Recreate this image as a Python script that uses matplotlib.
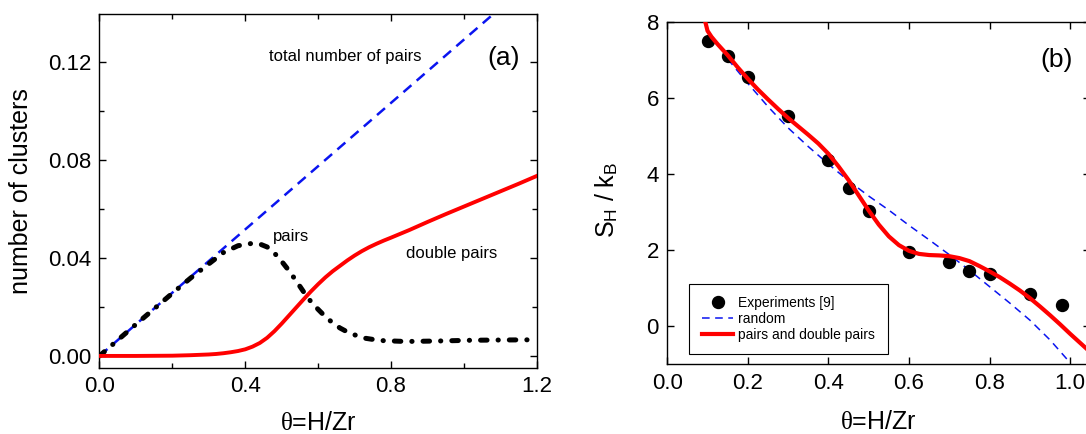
import matplotlib

matplotlib.use("Agg")
import matplotlib.pyplot as plt
from matplotlib.ticker import MultipleLocator

plt.rcParams["font.family"] = ["Liberation Sans", "DejaVu Sans"]
plt.rcParams["mathtext.fontset"] = "custom"
plt.rcParams["mathtext.rm"] = "Liberation Serif"
plt.rcParams["mathtext.sf"] = "Liberation Sans"
plt.rcParams["mathtext.it"] = "Liberation Serif:italic"

# ---- panel (a): number of clusters vs coverage ----
theta_total = [0.0, 1.2]
total_pairs = [0.0, 0.155]

theta_pairs = [0.0, 0.1, 0.2, 0.25, 0.3, 0.34, 0.38, 0.42, 0.44, 0.46, 0.48, 0.50,
               0.52, 0.54, 0.56, 0.58, 0.60, 0.62, 0.64, 0.66, 0.68, 0.70, 0.73,
               0.77, 0.84, 0.93, 1.02, 1.1, 1.2]
pairs = [0.0, 0.0129, 0.0256, 0.0318, 0.0376, 0.0422, 0.0450, 0.0460, 0.0457,
         0.0445, 0.0420, 0.0386, 0.0348, 0.0306, 0.0262, 0.0222, 0.0190, 0.0160,
         0.0135, 0.0114, 0.0098, 0.0086, 0.0072, 0.0063, 0.0059, 0.0061, 0.0064,
         0.0065, 0.0066]

theta_double = [0.0, 0.1, 0.2, 0.25, 0.30, 0.32, 0.34, 0.36, 0.38, 0.40, 0.42, 0.44,
                0.46, 0.48, 0.50, 0.52, 0.54, 0.56, 0.58, 0.60, 0.62, 0.64, 0.66,
                0.68, 0.70, 0.72, 0.74, 0.76, 0.78, 0.80, 0.85, 0.90, 0.95, 1.0,
                1.05, 1.1, 1.15, 1.2]
double_pairs = [0.0, 0.0, 0.0001, 0.0003, 0.0006, 0.0008, 0.0011, 0.0015, 0.0020,
                0.0027, 0.0038, 0.0053, 0.0074, 0.0101, 0.0132, 0.0165, 0.0198,
                0.0231, 0.0263, 0.0293, 0.0321, 0.0346, 0.0368, 0.0390, 0.0410,
                0.0428, 0.0444, 0.0458, 0.0471, 0.0483, 0.0514, 0.0547, 0.0579,
                0.0610, 0.0641, 0.0672, 0.0703, 0.0735]

# ---- panel (b): entropy ----
theta_exp = [0.1, 0.15, 0.2, 0.3, 0.4, 0.45, 0.5, 0.6, 0.7, 0.75, 0.8, 0.9, 0.98]
s_exp = [7.48, 7.11, 6.56, 5.51, 4.37, 3.62, 3.04, 1.94, 1.68, 1.45, 1.36, 0.84, 0.57]

theta_random = [0.15, 0.2, 0.25, 0.3, 0.35, 0.4, 0.45, 0.5, 0.55, 0.6, 0.65, 0.7,
                0.75, 0.8, 0.85, 0.9, 0.95, 0.99, 1.0]
s_random = [7.02, 6.38, 5.77, 5.21, 4.72, 4.26, 3.82, 3.42, 3.05, 2.65, 2.27, 1.88,
            1.47, 1.04, 0.61, 0.16, -0.36, -0.84, -0.97]

theta_model = [0.092, 0.1, 0.11, 0.125, 0.15, 0.175, 0.2, 0.225, 0.25, 0.275, 0.3,
               0.325, 0.35, 0.375, 0.4, 0.425, 0.45, 0.475, 0.5, 0.525, 0.55, 0.575,
               0.6, 0.625, 0.65, 0.675, 0.7, 0.725, 0.75, 0.775, 0.8, 0.825, 0.85,
               0.875, 0.9, 0.925, 0.95, 0.975, 1.0, 1.025, 1.05, 1.06]
s_model = [8.10, 7.76, 7.60, 7.41, 7.12, 6.80, 6.50, 6.22, 5.96, 5.71, 5.47, 5.25,
           5.03, 4.80, 4.53, 4.20, 3.84, 3.44, 3.04, 2.67, 2.36, 2.13, 1.98, 1.90,
           1.87, 1.86, 1.84, 1.79, 1.71, 1.58, 1.44, 1.29, 1.12, 0.94, 0.74, 0.52,
           0.29, 0.05, -0.20, -0.44, -0.68, -0.77]


def style_axes(ax, minor=False):
    for spine in ax.spines.values():
        spine.set_linewidth(1.0)
    ax.tick_params(which="major", direction="in", top=True, right=True,
                   length=5, width=1.0, labelsize=16, pad=6)
    if minor:
        ax.tick_params(which="minor", direction="in", top=True, right=True,
                       length=3.5, width=1.0)


def main():
    fig = plt.figure(figsize=(10.86, 4.34), dpi=100)

    # panel (a)
    ax1 = fig.add_axes([0.0916, 0.1528, 0.4027, 0.8142])
    ax1.plot(theta_total, total_pairs, color="#0a14f0", lw=1.8,
             dashes=(4.2, 2.8), zorder=2)
    ax1.plot(theta_pairs, pairs, color="black", lw=3.6,
             linestyle=(0, (1.3, 2.2, 0.05, 2.2)), dash_capstyle="round", zorder=3)
    ax1.plot(theta_double, double_pairs, color="#ff0000", lw=2.8, zorder=4)

    ax1.set_xlim(0.0, 1.2)
    ax1.set_ylim(-0.0048, 0.1395)
    ax1.xaxis.set_major_locator(MultipleLocator(0.4))
    ax1.xaxis.set_minor_locator(MultipleLocator(0.2))
    ax1.yaxis.set_major_locator(MultipleLocator(0.04))
    ax1.yaxis.set_minor_locator(MultipleLocator(0.02))
    ax1.xaxis.set_major_formatter(lambda v, p: f"{v:.1f}")
    ax1.yaxis.set_major_formatter(lambda v, p: f"{v:.2f}")
    style_axes(ax1, minor=True)

    ax1.text(0.465, 0.1222, "total number of pairs", fontsize=12, va="center")
    ax1.text(1.065, 0.1218, "(a)", fontsize=19, va="center")
    ax1.text(0.477, 0.0487, "pairs", fontsize=12, va="center")
    ax1.text(0.842, 0.0419, "double pairs", fontsize=12, va="center")

    ax1.set_xlabel(r"$\mathrm{\theta}$=H/Zr", fontsize=18, va="center")
    ax1.set_ylabel("number of clusters", fontsize=18, va="center")
    ax1.xaxis.set_label_coords(0.5, -0.156)
    ax1.yaxis.set_label_coords(-0.1786, 0.5)

    # panel (b)
    ax2 = fig.add_axes([0.6144, 0.1606, 0.3892, 0.7894])
    ax2.plot(theta_exp, s_exp, "o", color="black", markersize=8.6,
             label="Experiments [9]", zorder=3)
    ax2.plot(theta_random, s_random, color="#0a14f0", lw=1.1,
             dashes=(5.0, 3.6), label="random", zorder=2)
    ax2.plot(theta_model, s_model, color="#ff0000", lw=3.0,
             label="pairs and double pairs", zorder=4)

    ax2.set_xlim(0.0, 1.049)
    ax2.set_ylim(-1.0, 8.0)
    ax2.xaxis.set_major_locator(MultipleLocator(0.2))
    ax2.yaxis.set_major_locator(MultipleLocator(2))
    ax2.xaxis.set_major_formatter(lambda v, p: f"{v:.1f}")
    style_axes(ax2)

    ax2.text(0.967, 6.99, "(b)", fontsize=19, ha="center", va="center")

    leg = ax2.legend(loc="lower left", bbox_to_anchor=(0.0516, 0.030),
                     borderaxespad=0, fontsize=10, numpoints=1, handlelength=2.3,
                     handletextpad=0.35, labelspacing=0.12, borderpad=0.9,
                     fancybox=False, framealpha=1, edgecolor="black")
    leg.get_frame().set_linewidth(0.8)

    ax2.set_xlabel(r"$\mathrm{\theta}$=H/Zr", fontsize=18, va="center")
    ax2.set_ylabel(r"S$_\mathsf{H}$ / k$_\mathsf{B}$", fontsize=18, va="center")
    ax2.xaxis.set_label_coords(0.5, -0.1675)
    ax2.yaxis.set_label_coords(-0.1427, 0.48)

    fig.savefig("out.png", dpi=100)
    plt.close(fig)


if __name__ == "__main__":
    main()
